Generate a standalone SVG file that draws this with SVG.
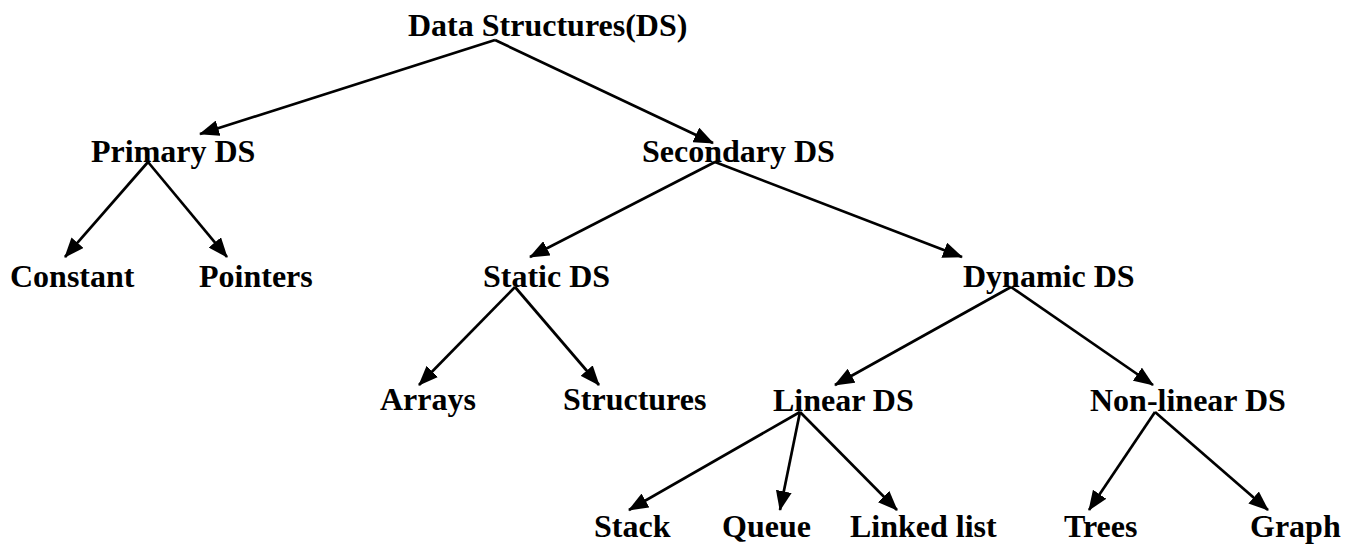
<svg xmlns="http://www.w3.org/2000/svg" width="1354" height="544" viewBox="0 0 1354 544">
<defs>
<style>
.t{font-family:"Liberation Serif","Times New Roman",serif;font-weight:bold;font-size:32px;fill:#000}
.c line{stroke:#000;stroke-width:2.7;fill:none;marker-end:url(#ah)}
</style>
<marker id="ah" markerUnits="userSpaceOnUse" viewBox="0 0 20 16" markerWidth="20" markerHeight="16" refX="19" refY="8" orient="auto">
<path d="M0,0 L20,8 L0,16 z" fill="#000"/>
</marker>
</defs>
<rect width="1354" height="544" fill="#fff"/>
<g class="c" id="connectors">
<line x1="495" y1="40" x2="200" y2="134"/>
<line x1="495" y1="40" x2="713" y2="143"/>
<line x1="148" y1="162" x2="65" y2="257"/>
<line x1="148" y1="162" x2="227" y2="257"/>
<line x1="715" y1="162" x2="530" y2="257"/>
<line x1="715" y1="162" x2="962" y2="257"/>
<line x1="515" y1="287" x2="419" y2="385"/>
<line x1="515" y1="287" x2="599" y2="385"/>
<line x1="1011" y1="287" x2="835" y2="385"/>
<line x1="1011" y1="287" x2="1153" y2="385"/>
<line x1="800" y1="412" x2="629" y2="510"/>
<line x1="800" y1="412" x2="780" y2="510"/>
<line x1="800" y1="412" x2="897" y2="510"/>
<line x1="1155" y1="412" x2="1089" y2="510"/>
<line x1="1155" y1="412" x2="1268" y2="510"/>
</g>
<g id="n-ds"><text class="t" x="408" y="36">Data Structures(DS)</text></g>
<g id="n-primary"><text class="t" x="91" y="162">Primary DS</text></g>
<g id="n-secondary"><text class="t" x="642" y="162">Secondary DS</text></g>
<g id="n-constant"><text class="t" x="10" y="287">Constant</text></g>
<g id="n-pointers"><text class="t" x="199" y="287">Pointers</text></g>
<g id="n-static"><text class="t" x="483" y="287">Static DS</text></g>
<g id="n-dynamic"><text class="t" x="963" y="287">Dynamic DS</text></g>
<g id="n-arrays"><text class="t" x="380" y="410">Arrays</text></g>
<g id="n-structures"><text class="t" x="563" y="410">Structures</text></g>
<g id="n-linear"><text class="t" x="773" y="411">Linear DS</text></g>
<g id="n-nonlinear"><text class="t" x="1090" y="411">Non-linear DS</text></g>
<g id="n-stack"><text class="t" x="594" y="537">Stack</text></g>
<g id="n-queue"><text class="t" x="722" y="537">Queue</text></g>
<g id="n-linked"><text class="t" x="850" y="537">Linked list</text></g>
<g id="n-trees"><text class="t" x="1064" y="537">Trees</text></g>
<g id="n-graph"><text class="t" x="1250" y="537">Graph</text></g>
</svg>
